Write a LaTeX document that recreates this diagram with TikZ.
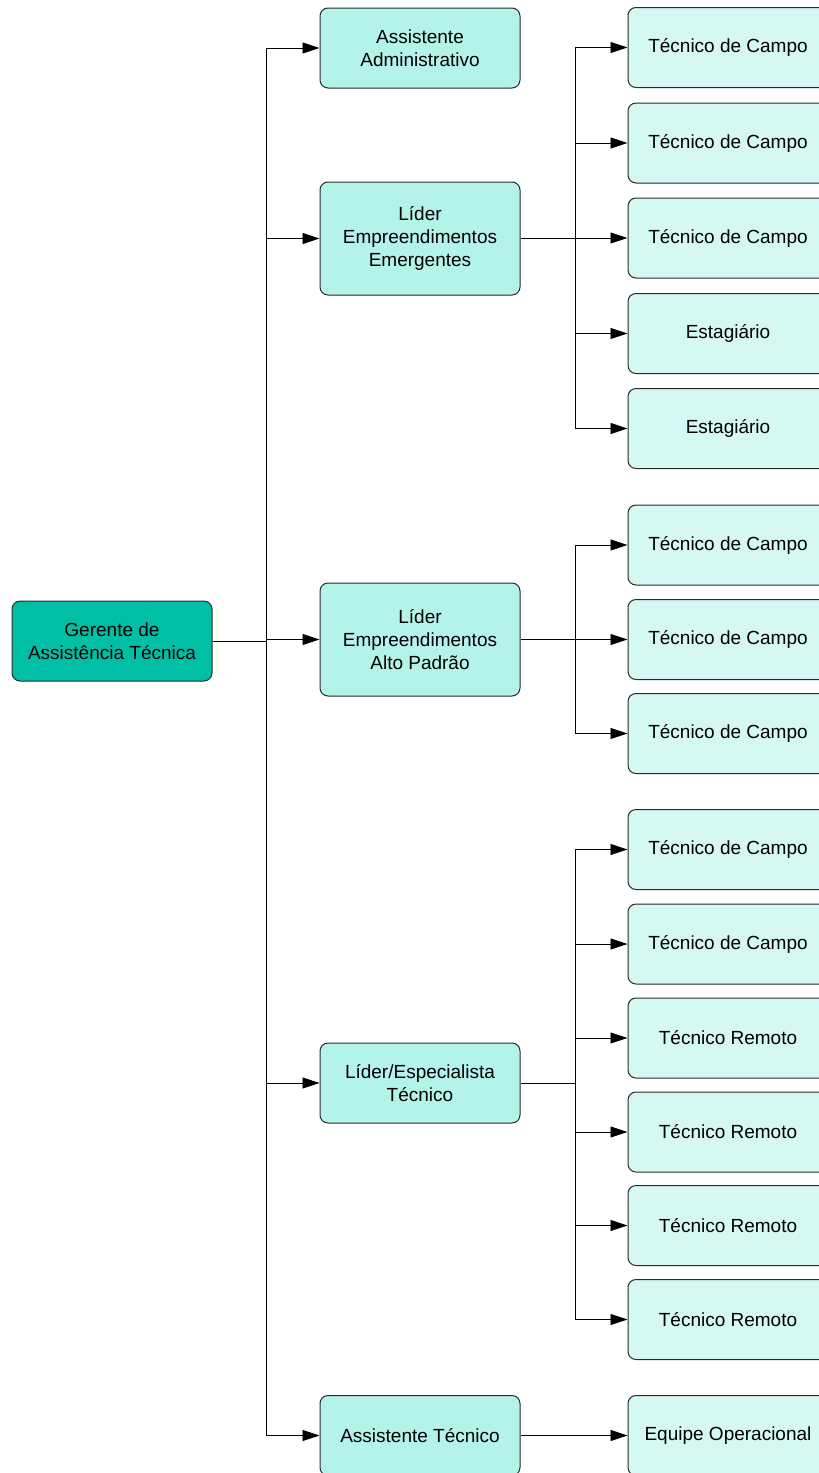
\documentclass[tikz,border=0pt]{standalone}
\usepackage{fontspec}
\setmainfont{Liberation Sans}
\usetikzlibrary{arrows.meta}
\definecolor{rootfill}{HTML}{00BFA5}
\definecolor{midfill}{HTML}{B4F3EA}
\definecolor{leaffill}{HTML}{D6F8F2}
\definecolor{edgegray}{HTML}{2A2A2A}
\tikzset{
  box/.style={draw=edgegray, line width=1pt, rounded corners=8pt,
    minimum width=200pt, minimum height=80pt, align=center,
    font=\fontsize{19}{23}\selectfont, inner sep=2pt},
  rootbox/.style={box, fill=rootfill},
  midbox/.style={box, fill=midfill},
  tallbox/.style={midbox, minimum height=113pt},
  leafbox/.style={box, fill=leaffill},
  link/.style={draw=black, line width=0.8pt},
  arr/.style={link, -{Triangle[length=17pt,width=11pt]}}
}
\begin{document}
\begin{tikzpicture}[x=1pt,y=-1pt]
\useasboundingbox (0,0) rectangle (819,1473);

% root
\node[rootbox] (root) at (112,641) {Gerente de\\Assistência Técnica};

% second level
\node[midbox]  (adm) at (420,48)    {Assistente\\Administrativo};
\node[tallbox] (emg) at (420,238.5) {Líder\\Empreendimentos\\Emergentes};
\node[tallbox] (alt) at (420,639.5) {Líder\\Empreendimentos\\Alto Padrão};
\node[midbox]  (esp) at (420,1083)  {Líder/Especialista\\Técnico};
\node[midbox]  (ast) at (420,1435.5) {Assistente Técnico};

% third level
\node[leafbox] (e1) at (728,47.5)  {Técnico de Campo};
\node[leafbox] (e2) at (728,143)   {Técnico de Campo};
\node[leafbox] (e3) at (728,238)   {Técnico de Campo};
\node[leafbox] (e4) at (728,333.5) {Estagiário};
\node[leafbox] (e5) at (728,428.5) {Estagiário};

\node[leafbox] (a1) at (728,545)   {Técnico de Campo};
\node[leafbox] (a2) at (728,639.5) {Técnico de Campo};
\node[leafbox] (a3) at (728,733.5) {Técnico de Campo};

\node[leafbox] (s1) at (728,849.5)  {Técnico de Campo};
\node[leafbox] (s2) at (728,944)    {Técnico de Campo};
\node[leafbox] (s3) at (728,1038)   {Técnico Remoto};
\node[leafbox] (s4) at (728,1132)   {Técnico Remoto};
\node[leafbox] (s5) at (728,1225.5) {Técnico Remoto};
\node[leafbox] (s6) at (728,1319.5) {Técnico Remoto};

\node[leafbox] (op) at (728,1435.5) {Equipe Operacional};

% junction points
\coordinate (jr) at (266,641);
\coordinate (je) at (575,238.5);
\coordinate (ja) at (575,639.5);
\coordinate (js) at (575,1083);

% root to second level
\draw[link] (root.east) -- (jr);
\foreach \n in {adm,emg,alt,esp,ast}
  \draw[arr] (jr) |- (\n.west);

% emergentes branch
\draw[link] (emg.east) -- (je);
\foreach \n in {e1,e2,e3,e4,e5}
  \draw[arr] (je) |- (\n.west);

% alto padrao branch
\draw[link] (alt.east) -- (ja);
\foreach \n in {a1,a2,a3}
  \draw[arr] (ja) |- (\n.west);

% especialista branch
\draw[link] (esp.east) -- (js);
\foreach \n in {s1,s2,s3,s4,s5,s6}
  \draw[arr] (js) |- (\n.west);

% assistente tecnico
\draw[arr] (ast.east) -- (op.west);
\end{tikzpicture}
\end{document}
